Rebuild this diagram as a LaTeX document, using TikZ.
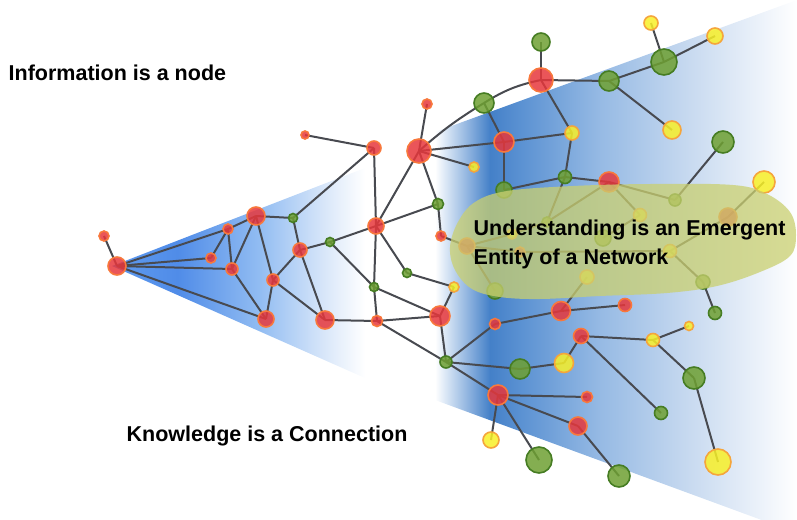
\documentclass[tikz,border=0pt]{standalone}
\usepackage{fontspec}
\newfontfamily\headfont{Liberation Sans}
\usetikzlibrary{backgrounds}
\definecolor{dotred}{RGB}{230,55,60}
\definecolor{dotredrim}{RGB}{248,120,60}
\definecolor{dotgreen}{RGB}{110,160,50}
\definecolor{dotgreenrim}{RGB}{70,125,35}
\definecolor{dotyellow}{RGB}{248,240,40}
\definecolor{dotyellowrim}{RGB}{245,165,60}
\definecolor{linkgray}{RGB}{72,74,80}
\definecolor{blobolive}{RGB}{202,208,112}
\definecolor{fanedge}{RGB}{95,155,240}
\definecolor{fandeep}{RGB}{80,140,232}
\definecolor{fanmid}{RGB}{145,188,242}
\definecolor{fanpale}{RGB}{222,234,250}
\definecolor{wedgelite}{RGB}{205,222,242}
\definecolor{wedgedeep}{RGB}{68,128,200}
\definecolor{wedgedark}{RGB}{90,145,210}
\definecolor{wedgemid}{RGB}{150,186,228}
\definecolor{wedgesoft}{RGB}{200,218,240}
\definecolor{wedgepale}{RGB}{236,242,250}
\pgfdeclarehorizontalshading{leftfan}{100bp}{color(0bp)=(fanedge); color(25bp)=(fanedge); color(38bp)=(fandeep); color(54bp)=(fanmid); color(68bp)=(fanpale); color(75bp)=(white); color(100bp)=(white)}
\pgfdeclarehorizontalshading{rightfan}{100bp}{color(0bp)=(white); color(25bp)=(white); color(27bp)=(wedgelite); color(32.6bp)=(wedgedeep); color(36.7bp)=(wedgedark); color(47.8bp)=(wedgemid); color(60.2bp)=(wedgesoft); color(69.9bp)=(wedgepale); color(75bp)=(white); color(100bp)=(white)}

\begin{document}
\begin{tikzpicture}[
    x=1pt, y=-1pt,
    rnode/.style={circle, inner sep=0pt, minimum size=#1pt, fill=dotred, draw=dotredrim, line width=1.6pt, fill opacity=0.85},
    gnode/.style={circle, inner sep=0pt, minimum size=#1pt, fill=dotgreen, draw=dotgreenrim, line width=1.6pt, fill opacity=0.85},
    ynode/.style={circle, inner sep=0pt, minimum size=#1pt, fill=dotyellow, draw=dotyellowrim, line width=1.6pt, fill opacity=0.85},
    link/.style={draw=linkgray, line width=2pt},
    claim/.style={inner sep=0pt, anchor=base west, font=\headfont\bfseries\fontsize{21.5}{29}\selectfont}
]
\useasboundingbox (0,0) rectangle (797,519);

% Left fan
\node[rnode=18] (f1) at (117,266) {};
\node[rnode=10] (f2) at (104,236) {};
\node[rnode=10] (f3) at (228,229) {};
\node[rnode=10] (f4) at (211,258) {};
\node[rnode=12] (f5) at (232,269) {};
\node[rnode=18] (f6) at (256,216) {};
\node[rnode=16] (f7) at (266,319) {};

% Middle
\node[gnode=9] (m1) at (293,218) {};
\node[rnode=14] (m2) at (300,250) {};
\node[rnode=12] (m3) at (273,280) {};
\node[rnode=18] (m4) at (325,320) {};
\node[gnode=9] (m5) at (330,242) {};
\node[rnode=16] (m6) at (376,226) {};
\node[rnode=14] (m7) at (374,148) {};
\node[rnode=8] (m8) at (305,135) {};
\node[rnode=24] (m9) at (419,151) {};
\node[rnode=10] (m10) at (427,104) {};
\node[gnode=11] (m11) at (438,204) {};
\node[rnode=10] (m12) at (441,236) {};
\node[gnode=9] (m13) at (374,287) {};
\node[rnode=11] (m14) at (377,321) {};
\node[gnode=9] (m15) at (407,273) {};
\node[rnode=20] (m16) at (440,316) {};
\node[ynode=10] (m17) at (454,287) {};
\node[gnode=12] (m18) at (446,362) {};

% Top right
\node[gnode=18] (t1) at (541,42) {};
\node[rnode=24] (t2) at (541,80) {};
\node[gnode=20] (t3) at (484,103) {};
\node[gnode=20] (t4) at (609,81) {};
\node[gnode=26] (t5) at (664,62) {};
\node[ynode=14] (t6) at (651,23) {};
\node[ynode=16] (t7) at (715,36) {};
\node[ynode=18] (t8) at (672,130) {};
\node[rnode=20] (t9) at (504,142) {};
\node[ynode=14] (t10) at (572,133) {};
\node[ynode=10] (t11) at (474,167) {};
\node[gnode=16] (t12) at (504,190) {};
\node[gnode=13] (t13) at (565,177) {};
\node[rnode=20] (t14) at (609,182) {};
\node[gnode=22] (t15) at (723,142) {};
\node[gnode=12] (t16) at (675,200) {};
\node[ynode=22] (t17) at (764,182) {};

% Under the blob
\node[rnode=16] (e1) at (467,246) {};
\node[ynode=10] (e2) at (512,234) {};
\node[gnode=10] (e3) at (547,222) {};
\node[rnode=10] (e4) at (520,252) {};
\node[gnode=16] (e5) at (603,238) {};
\node[ynode=13] (e6) at (640,215) {};
\node[rnode=18] (e7) at (728,217) {};
\node[ynode=13] (e8) at (670,251) {};
\node[gnode=14] (e9) at (703,282) {};
\node[gnode=16] (e10) at (495,291) {};
\node[ynode=14] (e11) at (587,277) {};

% Bottom right
\node[gnode=13] (b1) at (715,313) {};
\node[rnode=13] (b2) at (625,305) {};
\node[rnode=19] (b3) at (561,311) {};
\node[rnode=11] (b4) at (495,324) {};
\node[rnode=15] (b5) at (581,336) {};
\node[ynode=13] (b6) at (653,340) {};
\node[ynode=9] (b7) at (689,326) {};
\node[ynode=19] (b8) at (564,363) {};
\node[gnode=20] (b9) at (520,369) {};
\node[rnode=20] (b10) at (498,395) {};
\node[rnode=11] (b11) at (587,397) {};
\node[rnode=18] (b12) at (578,426) {};
\node[ynode=16] (b13) at (491,440) {};
\node[gnode=26] (b14) at (539,460) {};
\node[gnode=22] (b15) at (619,476) {};
\node[gnode=13] (b16) at (661,413) {};
\node[gnode=22] (b17) at (694,378) {};
\node[ynode=26] (b18) at (718,462) {};

\begin{scope}[on background layer]
% Fans
\shade[shading=leftfan] (112,266) -- (365,168) -- (365,378) -- cycle;
\shade[shading=rightfan] (435,132) -- (797,0) -- (797,533) -- (435,400) -- cycle;

% Connections
\draw[link] (f1.center) -- (f2.center);
\draw[link] (f1.center) -- (f3.center);
\draw[link] (f1.center) -- (f4.center);
\draw[link] (f1.center) -- (f5.center);
\draw[link] (f1.center) -- (f7.center);
\draw[link] (f3.center) -- (f4.center);
\draw[link] (f3.center) -- (f5.center);
\draw[link] (f3.center) -- (f6.center);
\draw[link] (f5.center) -- (f6.center);
\draw[link] (f5.center) -- (f7.center);
\draw[link] (f6.center) -- (m1.center);
\draw[link] (f6.center) -- (m3.center);
\draw[link] (f7.center) -- (m3.center);
\draw[link] (m1.center) -- (m2.center);
\draw[link] (m1.center) -- (m7.center);
\draw[link] (m2.center) -- (m3.center);
\draw[link] (m2.center) -- (m4.center);
\draw[link] (m2.center) -- (m5.center);
\draw[link] (m3.center) -- (m4.center);
\draw[link] (m4.center) -- (m14.center);
\draw[link] (m5.center) -- (m6.center);
\draw[link] (m5.center) -- (m13.center);
\draw[link] (m6.center) -- (m7.center);
\draw[link] (m6.center) -- (m9.center);
\draw[link] (m6.center) -- (m11.center);
\draw[link] (m6.center) -- (m13.center);
\draw[link] (m6.center) -- (m15.center);
\draw[link] (m7.center) -- (m8.center);
\draw[link] (m9.center) -- (m10.center);
\draw[link] (m9.center) -- (m11.center);
\draw[link] (m11.center) -- (m12.center);
\draw[link] (m12.center) -- (e1.center);
\draw[link] (m13.center) -- (m14.center);
\draw[link] (m13.center) -- (m16.center);
\draw[link] (m14.center) -- (m16.center);
\draw[link] (m14.center) -- (m18.center);
\draw[link] (m15.center) -- (m17.center);
\draw[link] (m16.center) -- (m17.center);
\draw[link] (m16.center) -- (m18.center);

\draw[link] (m9.center) to[bend left=5] (t3.center);
\draw[link] (t3.center) to[bend left=10] (t2.center);
\draw[link] (m9.center) -- (t9.center);
\draw[link] (m9.center) -- (t11.center);
\draw[link] (t2.center) -- (t1.center);
\draw[link] (t2.center) -- (t4.center);
\draw[link] (t2.center) -- (t10.center);
\draw[link] (t3.center) -- (t9.center);
\draw[link] (t9.center) -- (t10.center);
\draw[link] (t9.center) -- (t12.center);
\draw[link] (t10.center) -- (t13.center);
\draw[link] (t12.center) -- (t13.center);
\draw[link] (t13.center) -- (t14.center);
\draw[link] (t13.center) -- (e3.center);
\draw[link] (t14.center) -- (e3.center);
\draw[link] (t14.center) -- (t16.center);
\draw[link] (t16.center) -- (t15.center);
\draw[link] (t14.center) -- (e6.center);
\draw[link] (e6.center) -- (e5.center);
\draw[link] (t4.center) -- (t5.center);
\draw[link] (t5.center) -- (t6.center);
\draw[link] (t5.center) -- (t7.center);
\draw[link] (t4.center) -- (t8.center);
\draw[link] (t17.center) -- (e7.center);
\draw[link] (e7.center) -- (e8.center);
\draw[link] (e8.center) -- (e9.center);
\draw[link] (e9.center) -- (b1.center);
\draw[link] (e1.center) -- (e2.center);
\draw[link] (e2.center) -- (e3.center);
\draw[link] (e1.center) -- (e4.center);
\draw[link] (e4.center) -- (e8.center);
\draw[link] (e1.center) -- (e10.center);

\draw[link] (m18.center) -- (b4.center);
\draw[link] (b4.center) -- (b3.center);
\draw[link] (b3.center) -- (b2.center);
\draw[link] (b3.center) -- (e11.center);
\draw[link] (m18.center) -- (b9.center);
\draw[link] (b9.center) -- (b8.center);
\draw[link] (b8.center) -- (b5.center);
\draw[link] (b5.center) -- (b6.center);
\draw[link] (b6.center) -- (b7.center);
\draw[link] (b5.center) -- (b16.center);
\draw[link] (b6.center) -- (b17.center);
\draw[link] (b17.center) -- (b18.center);
\draw[link] (m18.center) -- (b10.center);
\draw[link] (b10.center) -- (b11.center);
\draw[link] (b10.center) -- (b12.center);
\draw[link] (b12.center) -- (b15.center);
\draw[link] (b10.center) -- (b13.center);
\draw[link] (b10.center) -- (b14.center);
\end{scope}

% Emergent blob
\fill[blobolive, opacity=0.75] plot[smooth cycle, tension=0.6] coordinates {(450,247) (458,222) (475,202) (507,191) (573,186) (650,184) (733,185) (767,194) (790,212) (796,235) (790,256) (760,272) (717,286) (667,293) (600,296) (540,299) (500,297) (472,289) (455,270)};

% Statements
\node[claim] (info) at (8.5,81) {Information is a node};
\node[claim] (know) at (126.5,441.5) {Knowledge is a Connection};
\node[claim] (under) at (473.5,235.5) {Understanding is an Emergent};
\node[claim] (entity) at (473.5,264.5) {Entity of a Network};

\end{tikzpicture}
\end{document}
